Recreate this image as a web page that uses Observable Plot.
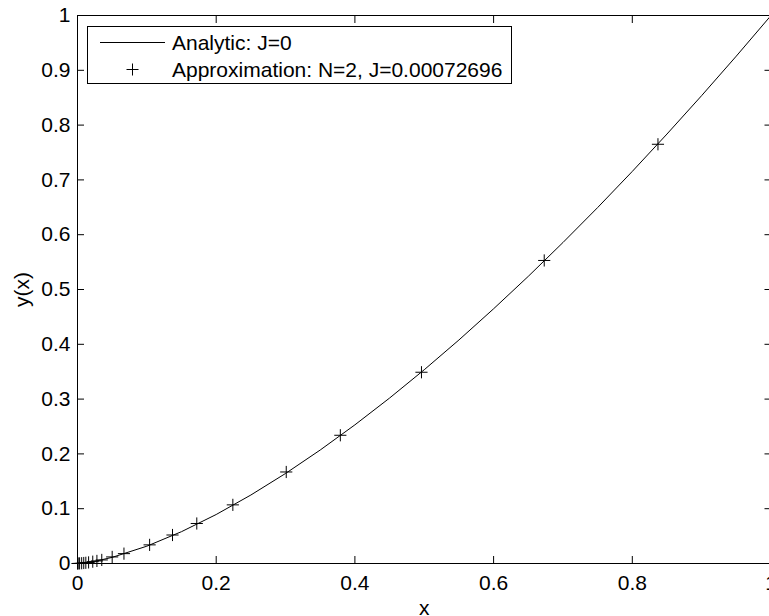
<!DOCTYPE html>
<html><head><meta charset="utf-8">
<script src="https://cdn.jsdelivr.net/npm/d3@7"></script>
<script src="https://cdn.jsdelivr.net/npm/@observablehq/plot@0.6"></script>
<style>
html,body{margin:0;padding:0;background:#fff;overflow:hidden;}
#chart{position:relative;width:769px;height:616px;}
</style></head><body><div id="chart"></div>
<script>
// Analytic curve
const curveX = [0, 0.025, 0.05, 0.1, 0.15, 0.2, 0.25, 0.3, 0.35, 0.4, 0.45, 0.5, 0.55, 0.6, 0.65, 0.7, 0.75, 0.8, 0.85, 0.9, 0.95, 1];
const curveY = [0, 0.004, 0.0112, 0.0316, 0.0581, 0.0894, 0.125, 0.1643, 0.2071, 0.253, 0.3019, 0.3536, 0.4079, 0.4648, 0.524, 0.5857, 0.6495, 0.7155, 0.7837, 0.8538, 0.9259, 1];
// Approximation markers
const approxX = [0, 0.001, 0.003, 0.006, 0.009, 0.012, 0.016, 0.022, 0.028, 0.035, 0.05, 0.067, 0.104, 0.137, 0.172, 0.224, 0.301, 0.379, 0.496, 0.673, 0.837];
const approxY = [0, 0.0001, 0.0002, 0.0005, 0.0009, 0.0013, 0.002, 0.0033, 0.0047, 0.0065, 0.012, 0.018, 0.034, 0.052, 0.073, 0.107, 0.167, 0.234, 0.349, 0.553, 0.765];
const xTicks = [0, 0.2, 0.4, 0.6, 0.8, 1];
const yTicks = [0, 0.1, 0.2, 0.3, 0.4, 0.5, 0.6, 0.7, 0.8, 0.9, 1];
const legendLabels = ["Analytic: J=0", "Approximation: N=2, J=0.00072696"];
const xLabel = "x";
const yLabel = "y(x)";

const analytic = curveX.map((x, i) => ({x, y: curveY[i]}));
const approx = approxX.map((x, i) => ({x, y: approxY[i]}));
const fmt = d => String(d);
const FONT = "'Liberation Sans', Arial, Helvetica, sans-serif";

const plot = Plot.plot({
  width: 769,
  height: 616,
  marginLeft: 77,
  marginRight: -1.5,
  marginTop: 15,
  marginBottom: 53,
  style: {fontFamily: FONT, fontSize: "21px", background: "white", color: "black"},
  x: {domain: [0, 1]},
  y: {domain: [0, 1]},
  marks: [
    Plot.axisX({ticks: xTicks, tickFormat: fmt, tickSize: 0, tickPadding: 12, label: null}),
    Plot.axisY({ticks: yTicks, tickFormat: fmt, tickSize: 0, tickPadding: 7, label: null}),
    Plot.axisX({anchor: "bottom", ticks: xTicks, tickSize: 7, dy: -7, fill: "none", label: null}),
    Plot.axisX({anchor: "top", ticks: xTicks, tickSize: 7, dy: 7, fill: "none", label: null}),
    Plot.axisY({anchor: "left", ticks: yTicks, tickSize: 7, dx: 7, fill: "none", label: null}),
    Plot.axisY({anchor: "right", ticks: yTicks, tickSize: 7, dx: -7, fill: "none", label: null}),
    Plot.line(analytic, {x: "x", y: "y", stroke: "black", strokeWidth: 1}),
    Plot.dot(approx, {x: "x", y: "y", symbol: "plus", r: 4, stroke: "black", strokeWidth: 1}),
    Plot.frame({stroke: "black", strokeWidth: 1}),
    Plot.text([yLabel], {text: d => d, frameAnchor: "left", dx: -55, rotate: -90, textAnchor: "middle", lineAnchor: "middle", fill: "black"}),
    Plot.text([xLabel], {text: d => d, frameAnchor: "bottom", dy: 45, textAnchor: "middle", lineAnchor: "middle", fill: "black"})
  ]
});
document.getElementById("chart").appendChild(plot);

// Legend box inside the axes (top-left)
const svg = d3.select(plot);
const lg = svg.append("g").attr("class", "legend").attr("text-anchor", "start");
lg.append("rect").attr("x", 87.5).attr("y", 26.5).attr("width", 424).attr("height", 57)
  .attr("fill", "white").attr("stroke", "black").attr("stroke-width", 1);
lg.append("line").attr("x1", 100).attr("x2", 165).attr("y1", 42.5).attr("y2", 42.5)
  .attr("stroke", "black").attr("stroke-width", 1);
lg.append("path").attr("d", "M126.5,69.5H138.5M132.5,63.5V75.5")
  .attr("stroke", "black").attr("stroke-width", 1).attr("fill", "none");
lg.selectAll("text.lab").data(legendLabels).join("text").attr("class", "lab")
  .attr("x", 172).attr("y", (d, i) => 50 + i * 27)
  .attr("text-anchor", "start")
  .attr("font-size", 21).attr("fill", "black")
  .attr("font-family", FONT)
  .text(d => d);
</script>
</body></html>
